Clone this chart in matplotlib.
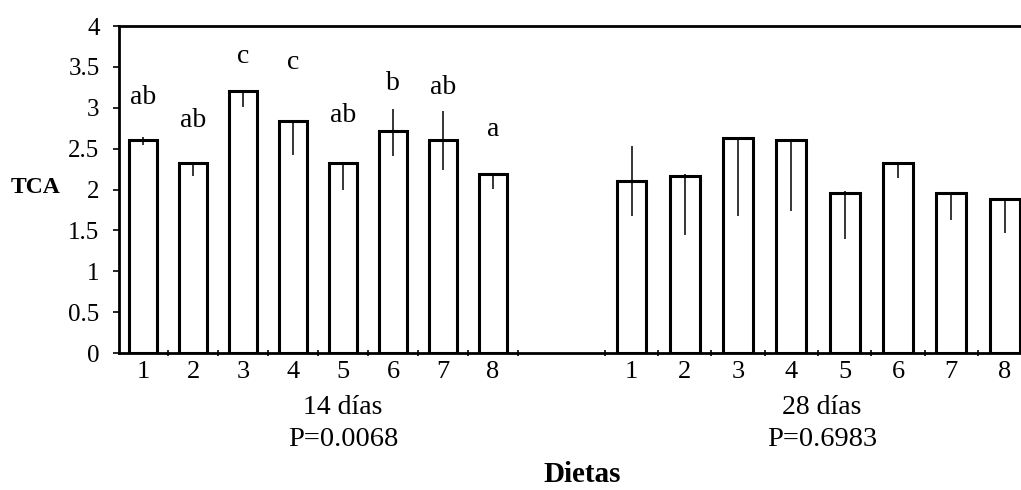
import matplotlib
matplotlib.use('Agg')
import matplotlib.pyplot as plt
import matplotlib.transforms as transforms
import numpy as np

plt.rcParams['font.family'] = ['Liberation Serif', 'DejaVu Serif']

# TCA medio por dieta (1-8) a los 14 y 28 días
dietas = ['1', '2', '3', '4', '5', '6', '7', '8']
tca_14 = [2.60, 2.33, 3.20, 2.84, 2.32, 2.71, 2.60, 2.19]
tca_28 = [2.10, 2.17, 2.63, 2.61, 1.96, 2.32, 1.96, 1.88]

# barras de error (parte inferior / superior)
err_inf_14 = [0.05, 0.16, 0.19, 0.42, 0.32, 0.30, 0.36, 0.18]
err_sup_14 = [0.04, 0.00, 0.00, 0.00, 0.00, 0.27, 0.36, 0.00]
err_inf_28 = [0.43, 0.73, 0.95, 0.87, 0.56, 0.18, 0.33, 0.41]
err_sup_28 = [0.43, 0.02, 0.00, 0.00, 0.02, 0.02, 0.00, 0.00]

# letras de significación (solo 14 días) y altura a la que se escriben
letras_14 = ['ab', 'ab', 'c', 'c', 'ab', 'b', 'ab', 'a']
letras_y = [3.12, 2.84, 3.63, 3.55, 2.91, 3.30, 3.25, 2.73]

grupos = ['14 días', '28 días']
pvalores = ['P=0.0068', 'P=0.6983']

# posiciones de las barras
x14 = np.arange(len(dietas), dtype=float)
paso28 = 1.066
x28 = 9.77 + np.arange(len(dietas)) * paso28
ancho = 0.56

fig = plt.figure(figsize=(10.21, 4.90), dpi=100)
ax = fig.add_axes([119/1021, 1 - 353/490, 1 - 119/1021, (353 - 26)/490])

estilo = dict(color='white', edgecolor='black', linewidth=2.2, zorder=2)
ax.bar(x14, tca_14, width=ancho, **estilo)
ax.bar(x28, tca_28, width=ancho*paso28, **estilo)

ebar = dict(fmt='none', ecolor='black', elinewidth=1.1, capsize=0, zorder=3)
ax.errorbar(x14, tca_14, yerr=[err_inf_14, err_sup_14], **ebar)
ax.errorbar(x28, tca_28, yerr=[err_inf_28, err_sup_28], **ebar)

for xi, letra, yi in zip(x14, letras_14, letras_y):
    ax.text(xi, yi, letra, ha='center', va='center', fontsize=20)

ax.set_xlim(-0.48, 17.56)
ax.set_ylim(0, 4)
ax.set_yticks(np.arange(0, 4.01, 0.5))
ax.set_yticklabels(['0', '0.5', '1', '1.5', '2', '2.5', '3', '3.5', '4'])

ax.set_xticks(np.concatenate([x14, x28]))
ax.set_xticklabels(dietas + dietas)
bordes = np.concatenate([x14[:-1] + 0.5, [x14[-1] + 0.5, x28[0] - paso28/2],
                         x28[:-1] + paso28/2])
ax.set_xticks(bordes, minor=True)
ax.tick_params(axis='x', which='major', length=0, pad=6, labelsize=19)
ax.tick_params(axis='x', which='minor', length=5, width=1.2, direction='inout')
ax.tick_params(axis='y', length=4, width=1.2, pad=10, labelsize=18)

for lado in ['left', 'top', 'bottom']:
    ax.spines[lado].set_linewidth(2.0)
ax.spines['right'].set_visible(False)

# etiquetas de los grupos bajo el eje
trans = transforms.blended_transform_factory(ax.transData, ax.transAxes)
for xc, g, p in zip([4.0, 13.58], grupos, pvalores):
    ax.text(xc, -0.168, g, transform=trans, ha='center', va='center', fontsize=20)
    ax.text(xc, -0.266, p, transform=trans, ha='center', va='center', fontsize=20.5)

fig.text(582/1021, 1 - 474/490, 'Dietas', ha='center', va='center',
         fontsize=21, fontweight='bold')
fig.text(36/1021, 1 - 187/490, 'TCA', ha='center', va='center',
         fontsize=17, fontweight='bold')

fig.savefig('out.png', dpi=100)
